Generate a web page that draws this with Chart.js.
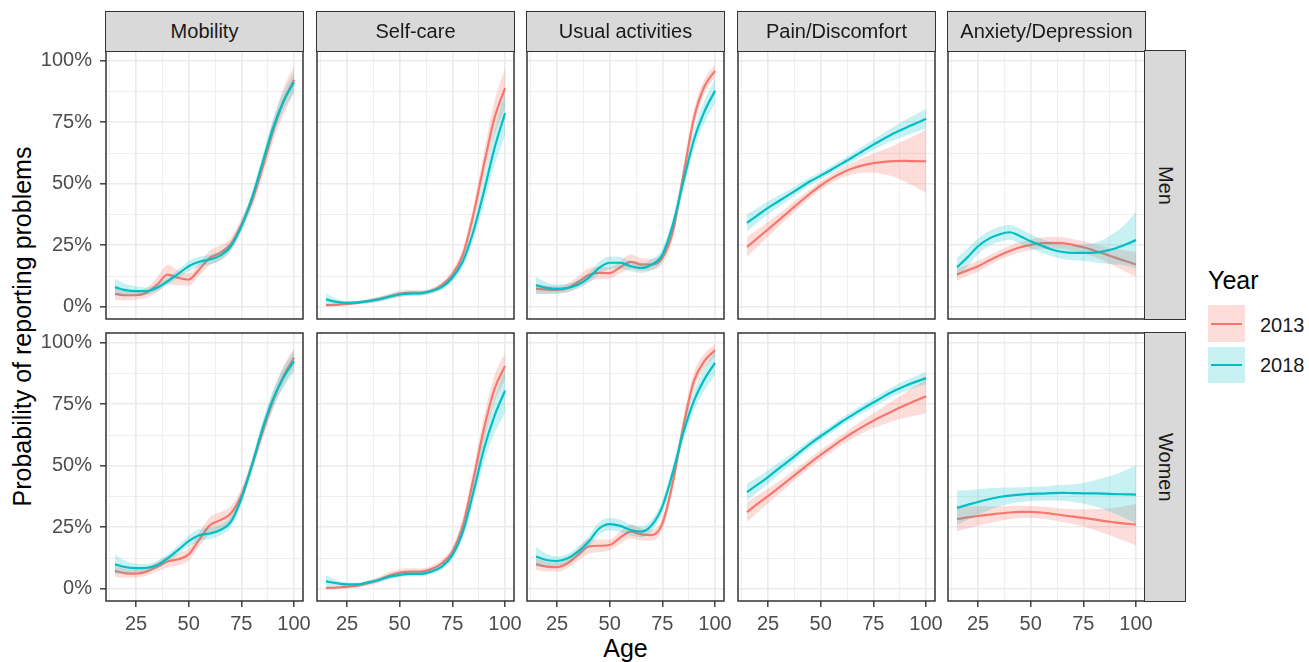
<!DOCTYPE html>
<html>
<head>
<meta charset="utf-8">
<script src="https://cdn.jsdelivr.net/npm/chart.js@4.4.1/dist/chart.umd.min.js"></script>
<style>
  body { margin: 0; background: #fff; font-family: "Liberation Sans", Arial, sans-serif; }
  #fig { position: relative; width: 1309px; height: 662px; overflow: hidden; background: #fff; }
  #fig canvas { position: absolute; }
  .strip { position: absolute; box-sizing: border-box; background: #d9d9d9; border: 1.5px solid #333; color: #1a1a1a; font-size: 20px; display: flex; align-items: center; justify-content: center; white-space: nowrap; }
  .strip.side { writing-mode: vertical-rl; }
  .title { position: absolute; font-size: 25px; line-height: 25px; color: #000; white-space: nowrap; text-align: center; }
  .key { position: absolute; left: 1208px; width: 37px; }
  .key span { position: absolute; left: 3px; right: 3px; top: 50%; height: 2px; margin-top: -1px; }
  .keylab { position: absolute; left: 1260px; font-size: 20px; line-height: 20px; color: #1a1a1a; }
</style>
</head>
<body>
<div id="fig">
  <div class="title" style="left:-228px; top:313.5px; width:500px; transform:rotate(-90deg);">Probability of reporting problems</div>
  <div class="title" style="left:425.5px; top:635.5px; width:400px;">Age</div>
  <div class="title" style="left:1208px; top:268px; text-align:left;">Year</div>
  <div class="key" style="top:305px; height:37px; background:rgba(248,118,109,0.25);"><span style="background:#F8766D"></span></div>
  <div class="key" style="top:347px; height:36px; background:rgba(0,191,196,0.22);"><span style="background:#00BFC4"></span></div>
  <div class="keylab" style="top:315px;">2013</div>
  <div class="keylab" style="top:355px;">2018</div>
</div>
<script>
// ages at which the smoothed curves were read
const ages = [15, 20, 25, 30, 35, 40, 45, 50, 55, 60, 65, 70, 75, 80, 85, 90, 95, 100]
const dimensions = ['Mobility', 'Self-care', 'Usual activities', 'Pain/Discomfort', 'Anxiety/Depression']
const sexes = ['Men', 'Women']
const years = ['2013', '2018']
const xGrid = [12.5, 25, 37.5, 50, 62.5, 75, 87.5, 100]
const yGrid = [0, 12.5, 25, 37.5, 50, 62.5, 75, 87.5, 100]

// Men (percent), band = half-width of the confidence ribbon
const mobilityMen2013 = [5.3, 4.7, 4.7, 5.7, 9.0, 13.1, 11.8, 11.1, 15.2, 19.9, 21.9, 25.6, 33.4, 42.9, 56.4, 71.3, 83.5, 92.3]
const mobilityMen2013Band = [2.5, 2.0, 1.8, 2.0, 3.0, 4.0, 3.0, 2.5, 2.5, 3.0, 3.0, 2.5, 2.5, 3.0, 3.5, 4.5, 5.5, 5.5]
const mobilityMen2018 = [8.0, 6.8, 6.4, 6.4, 7.7, 10.4, 13.4, 16.5, 18.3, 19.2, 20.8, 24.6, 32.7, 44.2, 58.4, 72.6, 83.5, 91.3]
const mobilityMen2018Band = [3.5, 2.5, 2.0, 1.5, 1.5, 1.5, 1.7, 2.0, 2.0, 2.0, 2.0, 2.0, 2.2, 2.5, 3.0, 3.5, 3.8, 4.0]

const selfCareMen2013 = [0.7, 0.8, 1.2, 1.6, 2.3, 3.1, 4.2, 5.3, 5.7, 5.7, 6.4, 8.8, 13.1, 21.2, 37.5, 57.8, 76.7, 88.9]
const selfCareMen2013Band = [0.5, 0.5, 0.6, 0.7, 0.9, 1.0, 1.1, 1.2, 1.1, 1.0, 1.1, 1.3, 1.8, 2.5, 3.5, 5.0, 7.0, 8.0]
const selfCareMen2018 = [3.0, 2.0, 1.6, 1.8, 2.3, 3.0, 4.1, 5.0, 5.4, 5.5, 6.4, 8.0, 11.8, 18.5, 30.7, 46.9, 64.5, 78.7]
const selfCareMen2018Band = [2.5, 1.2, 0.8, 0.7, 0.8, 0.9, 1.0, 1.0, 1.0, 1.0, 1.0, 1.2, 1.6, 2.3, 3.5, 5.0, 7.0, 9.0]

const usualMen2013 = [7.4, 7.0, 6.9, 7.7, 10.1, 12.9, 13.8, 13.7, 16.1, 18.3, 17.2, 17.2, 19.9, 30.7, 53.7, 76.7, 89.6, 95.9]
const usualMen2013Band = [2.0, 1.8, 1.6, 1.8, 2.3, 2.8, 2.5, 2.3, 2.5, 3.0, 2.5, 2.3, 2.5, 3.0, 3.5, 3.5, 3.0, 2.5]
const usualMen2018 = [8.7, 7.7, 7.3, 7.7, 9.1, 11.8, 15.8, 17.9, 17.9, 16.5, 15.8, 17.2, 21.2, 33.4, 51.0, 67.9, 79.4, 87.8]
const usualMen2018Band = [3.5, 2.3, 1.8, 1.7, 1.8, 2.0, 2.5, 2.5, 2.3, 2.0, 2.0, 2.2, 2.5, 3.0, 3.5, 4.0, 4.5, 5.0]

const painMen2013 = [24.3, 27.9, 31.5, 35.1, 38.8, 42.5, 46.0, 49.3, 52.1, 54.4, 56.2, 57.5, 58.4, 58.9, 59.2, 59.3, 59.2, 59.1]
const painMen2013Band = [4.0, 3.5, 3.0, 2.6, 2.2, 2.0, 1.8, 1.7, 1.8, 2.0, 2.4, 3.0, 3.8, 5.0, 6.5, 8.5, 10.5, 13.0]
const painMen2018 = [34.1, 37.2, 40.2, 42.9, 45.6, 48.3, 51.0, 53.3, 55.7, 58.2, 60.7, 63.3, 65.9, 68.3, 70.6, 72.6, 74.5, 76.4]
const painMen2018Band = [3.5, 3.0, 2.7, 2.3, 2.0, 1.8, 1.6, 1.5, 1.5, 1.6, 1.7, 1.9, 2.1, 2.4, 2.8, 3.2, 3.6, 4.0]

const anxietyMen2013 = [13.1, 14.8, 16.5, 18.7, 20.9, 22.7, 24.2, 25.2, 25.9, 26.0, 25.9, 25.2, 24.2, 22.9, 21.5, 20.0, 18.6, 17.2]
const anxietyMen2013Band = [2.5, 2.3, 2.2, 2.1, 2.0, 2.0, 2.1, 2.2, 2.3, 2.4, 2.4, 2.4, 2.4, 2.6, 3.0, 3.6, 4.3, 5.0]
const anxietyMen2018 = [16.1, 20.1, 24.6, 27.6, 29.4, 30.3, 28.7, 26.6, 24.9, 23.3, 22.3, 21.9, 21.9, 22.0, 22.6, 23.7, 25.3, 27.1]
const anxietyMen2018Band = [4.0, 3.6, 3.2, 3.0, 3.0, 3.0, 3.0, 2.9, 2.8, 2.8, 2.9, 3.0, 3.3, 3.9, 5.0, 6.5, 8.5, 11.5]

// Women
const mobilityWomen2013 = [7.3, 6.3, 6.2, 7.0, 9.0, 11.1, 12.0, 14.0, 20.0, 25.8, 27.9, 30.6, 38.0, 50.1, 63.6, 76.4, 86.5, 93.9]
const mobilityWomen2013Band = [2.5, 1.8, 1.6, 1.7, 2.0, 2.3, 2.5, 2.5, 2.8, 3.3, 3.3, 3.0, 2.8, 2.8, 3.0, 3.5, 4.0, 4.0]
const mobilityWomen2018 = [10.0, 8.8, 8.4, 8.5, 9.7, 12.4, 15.8, 19.4, 21.8, 22.5, 23.9, 27.2, 36.7, 50.1, 65.0, 77.1, 85.9, 92.5]
const mobilityWomen2018Band = [4.0, 2.5, 1.8, 1.5, 1.5, 1.6, 1.8, 2.2, 2.5, 2.3, 2.2, 2.2, 2.3, 2.5, 3.0, 3.5, 4.0, 4.5]

const selfCareWomen2013 = [0.3, 0.5, 0.8, 1.3, 2.3, 3.6, 5.4, 6.6, 7.0, 7.0, 8.0, 10.4, 15.1, 25.9, 44.7, 65.0, 81.2, 90.6]
const selfCareWomen2013Band = [0.4, 0.5, 0.6, 0.8, 1.0, 1.2, 1.4, 1.5, 1.4, 1.3, 1.3, 1.5, 2.0, 3.0, 4.0, 5.0, 5.5, 5.5]
const selfCareWomen2018 = [3.0, 2.3, 1.8, 1.8, 2.6, 3.6, 4.9, 5.7, 6.1, 6.1, 7.0, 9.0, 13.7, 23.2, 39.3, 56.9, 70.3, 80.5]
const selfCareWomen2018Band = [2.5, 1.2, 0.8, 0.7, 0.8, 0.9, 1.0, 1.0, 1.0, 1.0, 1.1, 1.3, 1.8, 2.7, 4.0, 5.5, 7.0, 9.0]

const usualWomen2013 = [10.0, 9.0, 8.8, 10.4, 13.8, 17.2, 17.5, 17.8, 20.8, 23.2, 22.1, 21.8, 26.5, 43.4, 66.3, 84.5, 92.6, 97.0]
const usualWomen2013Band = [2.5, 2.0, 1.8, 2.0, 2.5, 3.0, 2.5, 2.2, 2.5, 2.8, 2.5, 2.3, 2.5, 3.0, 3.5, 3.5, 3.0, 2.5]
const usualWomen2018 = [13.1, 11.7, 11.3, 12.4, 15.1, 19.1, 24.5, 26.3, 25.6, 23.9, 23.2, 25.9, 33.4, 47.4, 63.6, 76.4, 85.2, 91.8]
const usualWomen2018Band = [4.0, 2.5, 1.8, 1.8, 2.0, 2.3, 2.5, 2.5, 2.5, 2.3, 2.2, 2.3, 2.5, 3.0, 3.5, 4.0, 4.5, 5.0]

const painWomen2013 = [31.2, 34.5, 37.7, 41.0, 44.4, 47.8, 51.2, 54.4, 57.5, 60.5, 63.3, 65.9, 68.3, 70.5, 72.6, 74.6, 76.4, 78.2]
const painWomen2013Band = [4.0, 3.5, 3.0, 2.6, 2.3, 2.1, 2.0, 2.0, 2.0, 2.1, 2.3, 2.6, 3.0, 3.6, 4.3, 5.1, 6.0, 7.0]
const painWomen2018 = [39.3, 42.3, 45.4, 48.8, 52.1, 55.5, 58.9, 62.0, 64.9, 67.9, 70.6, 73.2, 75.7, 78.2, 80.5, 82.4, 84.1, 85.6]
const painWomen2018Band = [3.5, 3.1, 2.7, 2.4, 2.1, 1.9, 1.7, 1.6, 1.6, 1.6, 1.6, 1.7, 1.8, 1.9, 2.0, 2.2, 2.3, 2.5]

const anxietyWomen2013 = [28.3, 29.0, 29.6, 30.1, 30.6, 31.0, 31.3, 31.3, 31.0, 30.5, 29.9, 29.3, 28.8, 28.2, 27.5, 27.0, 26.5, 26.1]
const anxietyWomen2013Band = [5.0, 4.5, 4.0, 3.5, 3.0, 2.7, 2.5, 2.4, 2.4, 2.5, 2.7, 3.0, 3.5, 4.2, 5.0, 6.0, 7.2, 8.5]
const anxietyWomen2018 = [32.9, 34.1, 35.3, 36.4, 37.3, 37.9, 38.3, 38.6, 38.7, 38.9, 39.0, 38.9, 38.8, 38.8, 38.7, 38.5, 38.4, 38.3]
const anxietyWomen2018Band = [7.0, 6.0, 5.2, 4.5, 3.8, 3.3, 3.0, 2.9, 2.9, 3.0, 3.2, 3.6, 4.2, 5.2, 6.5, 8.0, 9.8, 11.8]

const panelSeries = [
  [
    [mobilityMen2013, mobilityMen2013Band, mobilityMen2018, mobilityMen2018Band],
    [selfCareMen2013, selfCareMen2013Band, selfCareMen2018, selfCareMen2018Band],
    [usualMen2013, usualMen2013Band, usualMen2018, usualMen2018Band],
    [painMen2013, painMen2013Band, painMen2018, painMen2018Band],
    [anxietyMen2013, anxietyMen2013Band, anxietyMen2018, anxietyMen2018Band]
  ],
  [
    [mobilityWomen2013, mobilityWomen2013Band, mobilityWomen2018, mobilityWomen2018Band],
    [selfCareWomen2013, selfCareWomen2013Band, selfCareWomen2018, selfCareWomen2018Band],
    [usualWomen2013, usualWomen2013Band, usualWomen2018, usualWomen2018Band],
    [painWomen2013, painWomen2013Band, painWomen2018, painWomen2018Band],
    [anxietyWomen2013, anxietyWomen2013Band, anxietyWomen2018, anxietyWomen2018Band]
  ]
]

const RED = '#F8766D', TEAL = '#00BFC4'
const RED_FILL = 'rgba(248,118,109,0.25)', TEAL_FILL = 'rgba(0,191,196,0.22)'
const FONT = "'Liberation Sans', Arial, sans-serif"
const PANEL_W = 197, PANEL_H = 268
const panelLeft = [106, 317, 527, 738, 948]
const panelTop = [51, 333]

const panelBox = {
  id: 'panelBox',
  afterDraw(chart) {
    const { ctx, chartArea: a } = chart
    ctx.save()
    ctx.strokeStyle = '#333333'
    ctx.lineWidth = 1.5
    ctx.strokeRect(a.left, a.top, a.right - a.left, a.bottom - a.top)
    ctx.restore()
  }
}

const pts = vals => ages.map((a, i) => ({ x: a, y: vals[i] }))
const upper = (m, b) => ages.map((a, i) => ({ x: a, y: m[i] + b[i] }))
const lower = (m, b) => ages.map((a, i) => ({ x: a, y: m[i] - b[i] }))
const isMajor = v => v % 25 === 0
const clear = 'rgba(0,0,0,0)'

function makePanel(r, c) {
  const [s13, b13, s18, b18] = panelSeries[r][c]
  const leftCol = c === 0, bottomRow = r === 1
  const padR = bottomRow ? 24 : 2
  const left = leftCol ? 0 : panelLeft[c] - 2
  const cv = document.createElement('canvas')
  cv.width = (panelLeft[c] - left) + PANEL_W + padR
  cv.height = 2 + PANEL_H + (bottomRow ? 44 : 2)
  cv.style.left = left + 'px'
  cv.style.top = (panelTop[r] - 2) + 'px'
  document.getElementById('fig').appendChild(cv)

  const band = { pointRadius: 0, borderWidth: 0, borderColor: clear, cubicInterpolationMode: 'monotone' }
  const line = { pointRadius: 0, borderWidth: 2.2, fill: false, cubicInterpolationMode: 'monotone' }

  new Chart(cv, {
    type: 'line',
    data: {
      datasets: [
        Object.assign({ label: years[1], data: pts(s18), borderColor: TEAL }, line),
        Object.assign({ data: upper(s18, b18), fill: '+1', backgroundColor: TEAL_FILL }, band),
        Object.assign({ data: lower(s18, b18), fill: false }, band),
        Object.assign({ label: years[0], data: pts(s13), borderColor: RED }, line),
        Object.assign({ data: upper(s13, b13), fill: '+1', backgroundColor: RED_FILL }, band),
        Object.assign({ data: lower(s13, b13), fill: false }, band)
      ]
    },
    options: {
      responsive: false,
      animation: false,
      devicePixelRatio: 1,
      events: [],
      layout: { padding: { left: leftCol ? 0 : 2, right: padR, top: 2, bottom: bottomRow ? 0 : 2 } },
      plugins: { legend: { display: false }, tooltip: { enabled: false } },
      scales: {
        x: {
          type: 'linear', min: 10.75, max: 104.25,
          afterBuildTicks: s => { s.ticks = xGrid.map(v => ({ value: v })) },
          afterFit: s => { s.height = bottomRow ? 44 : 0; s.paddingLeft = 0; s.paddingRight = 0 },
          border: { display: false },
          grid: {
            color: '#ebebeb',
            lineWidth: ctx => isMajor(ctx.tick.value) ? 1.6 : 0.8,
            drawTicks: bottomRow, tickLength: 6, tickWidth: 1.4,
            tickColor: ctx => isMajor(ctx.tick.value) ? '#333333' : clear
          },
          ticks: {
            display: bottomRow, autoSkip: false, maxRotation: 0, padding: 5,
            color: '#4d4d4d', font: { family: FONT, size: 20 },
            callback: v => isMajor(v) ? String(v) : ''
          }
        },
        y: {
          type: 'linear', min: -4.95, max: 103.95,
          afterBuildTicks: s => { s.ticks = yGrid.map(v => ({ value: v })) },
          afterFit: s => { s.width = leftCol ? panelLeft[0] : 0; s.paddingTop = 0; s.paddingBottom = 0 },
          border: { display: false },
          grid: {
            color: '#ebebeb',
            lineWidth: ctx => isMajor(ctx.tick.value) ? 1.6 : 0.8,
            drawTicks: leftCol, tickLength: 6, tickWidth: 1.4,
            tickColor: ctx => isMajor(ctx.tick.value) ? '#333333' : clear
          },
          ticks: {
            display: leftCol, autoSkip: false, padding: 8,
            color: '#4d4d4d', font: { family: FONT, size: 20 },
            callback: v => isMajor(v) ? v + '%' : ''
          }
        }
      }
    },
    plugins: [panelBox]
  })
}

sexes.forEach((s, r) => dimensions.forEach((d, c) => makePanel(r, c)))

// facet strips
const fig = document.getElementById('fig')
dimensions.forEach((d, c) => {
  const el = document.createElement('div')
  el.className = 'strip'
  el.style.cssText = `left:${panelLeft[c] - 0.75}px; top:11px; width:${PANEL_W + 1.5}px; height:41px;`
  el.textContent = d
  fig.appendChild(el)
})
sexes.forEach((s, r) => {
  const el = document.createElement('div')
  el.className = 'strip side'
  el.style.cssText = `left:${panelLeft[4] + PANEL_W - 0.75}px; top:${panelTop[r] - 0.75}px; width:42px; height:${PANEL_H + 1.5}px;`
  el.textContent = s
  fig.appendChild(el)
})
</script>
</body>
</html>
